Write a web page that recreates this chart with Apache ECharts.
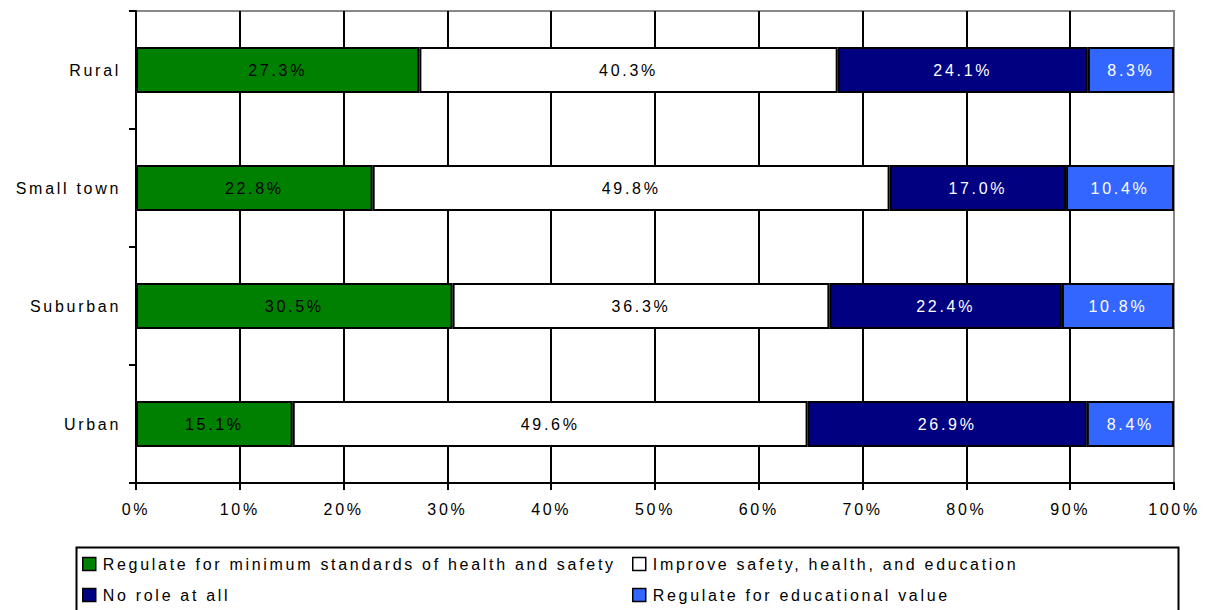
<!DOCTYPE html>
<html>
<head>
<meta charset="utf-8">
<script src="https://cdn.jsdelivr.net/npm/echarts@6/dist/echarts.min.js"></script>
<style>
  html, body { margin: 0; padding: 0; background: #fff; }
  #chart { width: 1206px; height: 610px; }
  #chart text { letter-spacing: 2.7px; }
</style>
</head>
<body>
<div id="chart"></div>
<script>
// Role of government, by community type (percent of respondents)
const categories = ['Urban', 'Suburban', 'Small town', 'Rural'];
const regulateMinimum = [15.1, 30.5, 22.8, 27.3];
const improveSafety = [49.6, 36.3, 49.8, 40.3];
const noRole = [26.9, 22.4, 17.0, 24.1];
const regulateEducational = [8.4, 10.8, 10.4, 8.3];
const seriesNames = [
  'Regulate for minimum standards of health and safety',
  'Improve safety, health, and education',
  'No role at all',
  'Regulate for educational value'
];
const xTicks = [0, 10, 20, 30, 40, 50, 60, 70, 80, 90, 100];

const FONT = 'Liberation Sans, Arial, sans-serif';
const FS = 16;
const colors = ['#008000', '#ffffff', '#000080', '#3366ff'];
const labelColors = ['#000', '#000', '#fff', '#fff'];
const seriesData = [regulateMinimum, improveSafety, noRole, regulateEducational];

const chart = echarts.init(document.getElementById('chart'), null, { renderer: 'svg' });

const legendBase = {
  orient: 'vertical', top: 556, padding: 0,
  itemWidth: 13, itemHeight: 13, itemGap: 15, icon: 'rect',
  itemStyle: { borderColor: '#000', borderWidth: 1.5 },
  textStyle: { fontSize: FS, color: '#000', fontFamily: FONT, lineHeight: 13, padding: [0, 0, 0, 2] }
};

const option = {
  animation: false,
  backgroundColor: '#fff',
  textStyle: { fontFamily: FONT },
  grid: {
    left: 136, right: 32, top: 11, bottom: 127,
    show: true, borderColor: '#888', borderWidth: 2, backgroundColor: 'transparent'
  },
  xAxis: {
    type: 'value',
    min: xTicks[0], max: xTicks[xTicks.length - 1], interval: 10,
    axisLine: { show: true, lineStyle: { color: '#000', width: 2 } },
    axisTick: { show: true, length: 7, lineStyle: { color: '#000', width: 2 } },
    axisLabel: { color: '#000', fontSize: FS, fontFamily: FONT, margin: 18, formatter: '{value}%' },
    splitLine: { show: true, showMaxLine: false, lineStyle: { color: '#000', width: 2 } }
  },
  yAxis: {
    type: 'category',
    data: categories,
    axisLine: { show: true, lineStyle: { color: '#000', width: 2 } },
    axisTick: { show: true, length: 7, lineStyle: { color: '#000', width: 2 } },
    axisLabel: { color: '#000', fontSize: FS, fontFamily: FONT, margin: 15 },
    splitLine: { show: false }
  },
  legend: [
    Object.assign({}, legendBase, { left: 82, data: [seriesNames[0], seriesNames[2]] }),
    Object.assign({}, legendBase, { left: 632, data: [seriesNames[1], seriesNames[3]] })
  ],
  graphic: [
    {
      type: 'rect', left: 74, top: 545, silent: true,
      shape: { width: 1102, height: 90 },
      style: { fill: 'none', stroke: '#000', lineWidth: 2 }
    }
  ],
  series: seriesNames.map((name, i) => ({
    name,
    type: 'bar',
    stack: 'total',
    barWidth: '39%',
    data: seriesData[i],
    itemStyle: { color: colors[i], borderColor: '#000', borderWidth: 2 },
    label: {
      show: true,
      position: 'inside',
      color: labelColors[i],
      fontSize: FS,
      fontFamily: FONT,
      formatter: p => p.value.toFixed(1) + '%'
    }
  }))
};

chart.setOption(option);
</script>
</body>
</html>
